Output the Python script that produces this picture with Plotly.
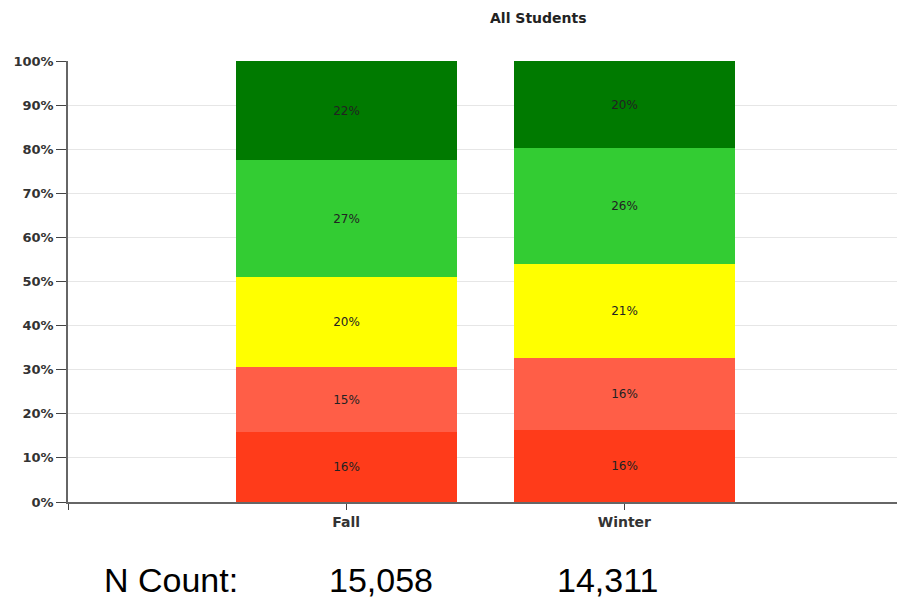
import plotly.graph_objects as go

categories = ["Fall", "Winter"]
cat_pos = [1, 2]
levels = ["Level 1", "Level 2", "Level 3", "Level 4", "Level 5"]
values = {
    "Level 1": [15.9, 16.3],
    "Level 2": [14.7, 16.4],
    "Level 3": [20.4, 21.2],
    "Level 4": [26.6, 26.3],
    "Level 5": [22.4, 19.8],
}
colors = ["#FF3B1A", "#FF5E47", "#FFFF00", "#33CC33", "#007A00"]
n_counts = ["15,058", "14,311"]
y_ticks = list(range(0, 101, 10))
y_ticktext = [f"{v}%" for v in y_ticks]

FONT = "DejaVu Sans, Verdana, sans-serif"
ARIAL = "Arial, Liberation Sans, sans-serif"

fig = go.Figure()
for lvl, col in zip(levels, colors):
    fig.add_trace(go.Bar(
        x=cat_pos, y=values[lvl], width=0.795,
        marker=dict(color=col, line=dict(width=0)),
        texttemplate="%{y:.0f}%", textposition="inside",
        insidetextanchor="middle", textangle=0,
        textfont=dict(family=FONT, size=12, color="#222"),
        constraintext="none", hoverinfo="skip", showlegend=False,
    ))

L, R, T, B = 68, 0, 61, 98
W, H = 897, 600
pw, ph = W - L - R, H - T - B

def px(x):
    return (x - L) / pw

def py(y):
    return (T + ph - y) / ph

fig.update_layout(
    width=W, height=H, barmode="stack",
    margin=dict(l=L, r=R, t=T, b=B, autoexpand=False),
    plot_bgcolor="white", paper_bgcolor="white",
    bargap=0,
    xaxis=dict(
        range=[0, 2.98], tickvals=[0] + cat_pos, ticktext=[""] + categories,
        showgrid=False, showline=True, linecolor="#666", linewidth=1.5,
        ticks="outside", ticklen=6, tickcolor="#444", tickwidth=1,
        tickfont=dict(family=FONT, size=14, color="#333", weight="bold"),
        zeroline=False, fixedrange=True,
    ),
    yaxis=dict(
        range=[0, 100], tickvals=y_ticks, ticktext=y_ticktext,
        showgrid=True, gridcolor="#e6e6e6", gridwidth=1,
        showline=True, linecolor="#666", linewidth=1.5,
        ticks="outside", ticklen=10, tickcolor="#444", tickwidth=1,
        tickfont=dict(family=FONT, size=13, color="#333", weight="bold"),
        zeroline=False, fixedrange=True,
    ),
)

fig.add_annotation(
    text="<b>All Students</b>", xref="paper", yref="paper",
    x=px(538), y=py(18), xanchor="center", yanchor="middle",
    showarrow=False, font=dict(family=FONT, size=14, color="#222"),
)
fig.add_annotation(
    text="N Count:", xref="paper", yref="paper",
    x=px(171), y=py(580), xanchor="center", yanchor="middle",
    showarrow=False, font=dict(family=ARIAL, size=34, color="#000"),
)
for cx, t in zip([381, 607], n_counts):
    fig.add_annotation(
        text=t, xref="paper", yref="paper",
        x=px(cx), y=py(580), xanchor="center", yanchor="middle",
        showarrow=False, font=dict(family=ARIAL, size=34, color="#000"),
    )

fig.write_html("out.html")
